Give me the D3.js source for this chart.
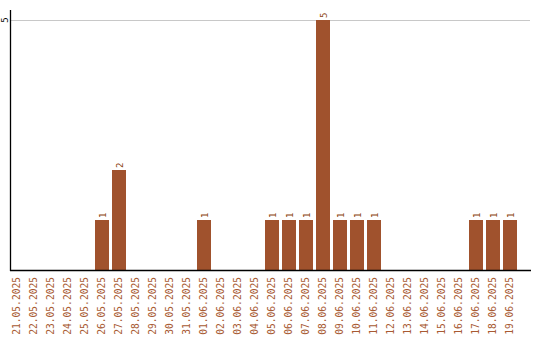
<!DOCTYPE html>
<html lang="en">
<head>
<meta charset="UTF-8">
<title>Daily counts</title>
<style>
    body { margin: 0; background: #fff; }
    .date-label { font: 9.6px "DejaVu Sans Mono", monospace; fill: #a85a33; }
    .value-label { font: 9px "DejaVu Sans Mono", monospace; fill: #8b4513; }
    .tick-label { font: 9px "DejaVu Sans Mono", monospace; fill: #000; }
</style>
</head>
<body>
<script src="https://d3js.org/d3.v7.min.js"></script>
<script>
    const dates = [
        "21.05.2025", "22.05.2025", "23.05.2025", "24.05.2025", "25.05.2025",
        "26.05.2025", "27.05.2025", "28.05.2025", "29.05.2025", "30.05.2025",
        "31.05.2025", "01.06.2025", "02.06.2025", "03.06.2025", "04.06.2025",
        "05.06.2025", "06.06.2025", "07.06.2025", "08.06.2025", "09.06.2025",
        "10.06.2025", "11.06.2025", "12.06.2025", "13.06.2025", "14.06.2025",
        "15.06.2025", "16.06.2025", "17.06.2025", "18.06.2025", "19.06.2025"
    ];
    const counts = [
        0, 0, 0, 0, 0,
        1, 2, 0, 0, 0,
        0, 1, 0, 0, 0,
        1, 1, 1, 5, 1,
        1, 1, 0, 0, 0,
        0, 0, 1, 1, 1
    ];
    const yTicks = [5];

    const width = 540;
    const height = 340;
    const left = 10, baseY = 270, topY = 10, axisEnd = 531;

    const svg = d3.select('body').append('svg')
        .attr('width', width)
        .attr('height', height);

    const x = d3.scaleBand()
        .domain(dates)
        .range([left, 517])
        .paddingInner(3 / 17)
        .paddingOuter(0);

    const y = d3.scaleLinear()
        .domain([0, 5.2])
        .range([baseY, topY]);

    // grid line
    svg.selectAll('line.grid')
        .data(yTicks)
        .enter().append('line')
        .attr('class', 'grid')
        .attr('x1', left).attr('x2', 530)
        .attr('y1', d => y(d) + 0.5).attr('y2', d => y(d) + 0.5)
        .attr('stroke', '#c8c8c8')
        .attr('stroke-width', 1);

    const rows = dates.map((d, i) => ({date: d, value: counts[i]}));

    svg.selectAll('rect.bar')
        .data(rows.filter(d => d.value > 0))
        .enter().append('rect')
        .attr('class', 'bar')
        .attr('x', d => x(d.date))
        .attr('width', x.bandwidth())
        .attr('y', d => y(d.value))
        .attr('height', d => y(0) - y(d.value))
        .attr('fill', '#a0522d');

    svg.selectAll('text.value-label')
        .data(rows.filter(d => d.value > 0))
        .enter().append('text')
        .attr('class', 'value-label')
        .attr('transform', d => `translate(${x(d.date) + x.bandwidth() / 2 + 0.5},${y(d.value) - 2}) rotate(-90)`)
        .attr('text-anchor', 'start')
        .attr('dy', '0.35em')
        .text(d => d.value);

    // axes lines
    svg.append('line')
        .attr('x1', left + 0.5).attr('x2', left + 0.5)
        .attr('y1', topY).attr('y2', baseY + 1)
        .attr('stroke', '#000').attr('stroke-width', 1.3);
    svg.append('line')
        .attr('x1', left).attr('x2', axisEnd)
        .attr('y1', baseY + 0.5).attr('y2', baseY + 0.5)
        .attr('stroke', '#000').attr('stroke-width', 1.3);

    svg.selectAll('text.tick-label')
        .data(yTicks)
        .enter().append('text')
        .attr('class', 'tick-label')
        .attr('transform', d => `translate(5,${y(d)}) rotate(-90)`)
        .attr('text-anchor', 'middle')
        .attr('dy', '0.35em')
        .text(d => d);

    svg.selectAll('text.date-label')
        .data(dates)
        .enter().append('text')
        .attr('class', 'date-label')
        .attr('transform', d => `translate(${x(d) + x.bandwidth() / 2},277) rotate(-90)`)
        .attr('text-anchor', 'end')
        .attr('dy', '0.35em')
        .text(d => d);
</script>
</body>
</html>
